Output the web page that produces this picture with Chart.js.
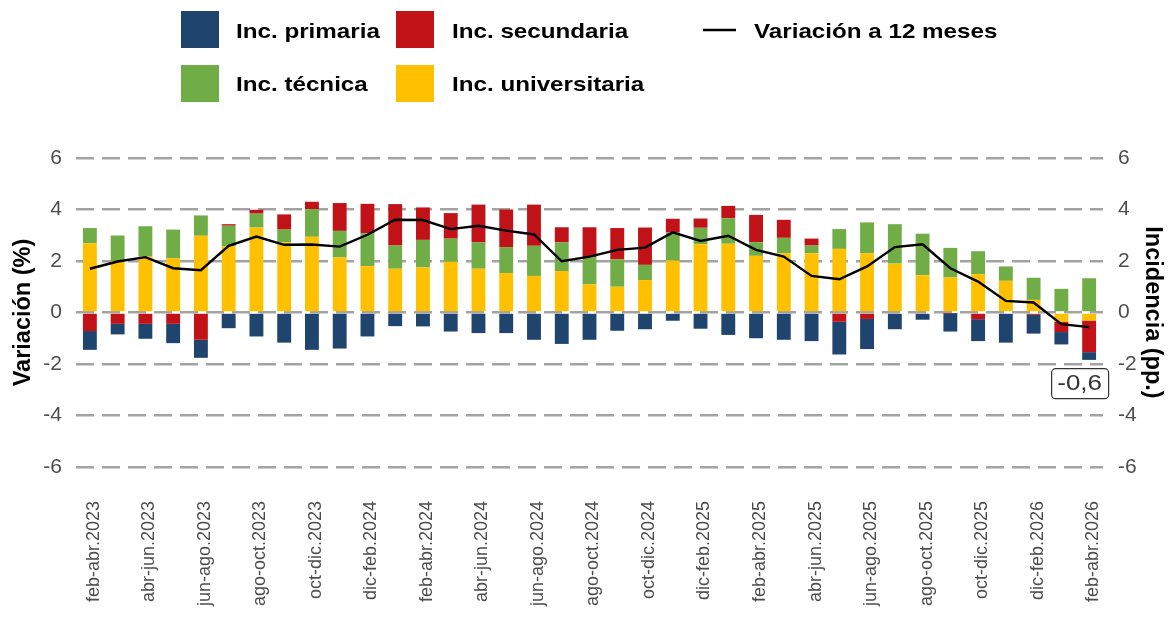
<!DOCTYPE html>
<html>
<head>
<meta charset="utf-8">
<script src="https://cdn.jsdelivr.net/npm/chart.js@4.4.1/dist/chart.umd.min.js"></script>
<style>
  html, body { margin: 0; padding: 0; background: #ffffff; }
  #wrap { position: relative; width: 1168px; height: 618px; }
</style>
</head>
<body>
<div id="wrap"><canvas id="c" width="1168" height="618"></canvas></div>
<script>
// ---------------- DATA ----------------
const categories = [
  'feb-abr.2023','mar-may.2023','abr-jun.2023','may-jul.2023','jun-ago.2023','jul-sep.2023',
  'ago-oct.2023','sep-nov.2023','oct-dic.2023','nov-ene.2024','dic-feb.2024','ene-mar.2024',
  'feb-abr.2024','mar-may.2024','abr-jun.2024','may-jul.2024','jun-ago.2024','jul-sep.2024',
  'ago-oct.2024','sep-nov.2024','oct-dic.2024','nov-ene.2025','dic-feb.2025','ene-mar.2025',
  'feb-abr.2025','mar-may.2025','abr-jun.2025','may-jul.2025','jun-ago.2025','jul-sep.2025',
  'ago-oct.2025','sep-nov.2025','oct-dic.2025','nov-ene.2026','dic-feb.2026','ene-mar.2026',
  'feb-abr.2026'
];
const incUniversitaria = [2.69,2.00,2.17,2.11,2.98,2.56,3.30,2.73,2.94,2.14,1.80,1.70,
  1.75,1.97,1.70,1.53,1.42,1.61,1.09,1.00,1.26,2.01,2.65,2.67,
  2.20,2.30,2.30,2.47,2.30,1.90,1.45,1.36,1.49,1.23,0.49,-0.36,-0.31];
const incTecnica = [0.59,0.99,1.18,1.11,0.79,0.81,0.54,0.49,1.07,1.03,1.28,0.90,
  1.07,0.90,1.02,1.01,1.17,1.11,1.06,1.07,0.59,1.10,0.64,0.99,
  0.53,0.60,0.30,0.77,1.20,1.53,1.61,1.15,0.89,0.56,0.86,0.92,1.33];
const incSecundaria = [-0.72,-0.44,-0.44,-0.44,-1.06,0.06,0.15,0.59,0.29,1.08,1.14,1.61,
  1.26,0.99,1.47,1.46,1.60,0.59,1.16,1.21,1.45,0.53,0.36,0.48,
  1.06,0.70,0.27,-0.36,-0.25,0,0,-0.03,-0.26,0,-0.09,-0.40,-1.23];
const incPrimaria = [-0.73,-0.41,-0.58,-0.75,-0.70,-0.61,-0.93,-1.17,-1.45,-1.40,-0.93,-0.53,
  -0.54,-0.74,-0.80,-0.80,-1.06,-1.22,-1.06,-0.71,-0.65,-0.32,-0.63,-0.87,
  -1.00,-1.06,-1.11,-1.27,-1.17,-0.65,-0.28,-0.71,-0.85,-1.17,-0.73,-0.48,-0.30];
const variacion12m = [1.70,1.98,2.15,1.72,1.64,2.59,2.95,2.63,2.64,2.56,3.02,3.60,
  3.59,3.24,3.37,3.18,3.03,1.99,2.17,2.43,2.52,3.11,2.78,2.98,
  2.43,2.17,1.42,1.29,1.79,2.54,2.65,1.72,1.20,0.45,0.39,-0.45,-0.57];
const yTickValues = [-6,-4,-2,0,2,4,6];

// ---------------- STYLE ----------------
const FONT = "'Liberation Sans', Arial, Helvetica, sans-serif";
const TICK_COLOR = '#4D4D4D';
const TEXT_SX = 1.18; // horizontal text stretch seen in the reference
const COLORS = {
  'Inc. primaria': '#1F446E',
  'Inc. secundaria': '#C11317',
  'Inc. técnica': '#70AD47',
  'Inc. universitaria': '#FFC000',
  'Variación a 12 meses': '#000000'
};

// Legend laid out in two rows like the reference
const legendLayout = [
  { label: 'Inc. primaria', kind: 'box', x: 181, y: 11, tx: 236, ty: 37.5 },
  { label: 'Inc. secundaria', kind: 'box', x: 396, y: 11, tx: 452, ty: 37.5 },
  { label: 'Variación a 12 meses', kind: 'line', x: 703, y: 30, tx: 754, ty: 37.5 },
  { label: 'Inc. técnica', kind: 'box', x: 181, y: 65, tx: 236, ty: 91 },
  { label: 'Inc. universitaria', kind: 'box', x: 396, y: 65, tx: 452, ty: 91 }
];

const legendPlugin = {
  id: 'customLegend',
  afterDraw(chart) {
    const ctx = chart.ctx;
    ctx.save();
    legendLayout.forEach(item => {
      const ds = chart.data.datasets.find(d => d.label === item.label);
      if (!ds) return;
      const col = ds.type === 'line' ? ds.borderColor : ds.backgroundColor;
      if (item.kind === 'box') {
        ctx.fillStyle = col;
        ctx.fillRect(item.x, item.y, 38, 37);
      } else {
        ctx.strokeStyle = col;
        ctx.lineWidth = 2.4;
        ctx.beginPath();
        ctx.moveTo(item.x, item.y);
        ctx.lineTo(item.x + 33, item.y);
        ctx.stroke();
      }
      ctx.save();
      ctx.translate(item.tx, item.ty);
      ctx.scale(TEXT_SX, 1);
      ctx.fillStyle = '#000000';
      ctx.font = 'bold 20.5px ' + FONT;
      ctx.textAlign = 'left';
      ctx.textBaseline = 'alphabetic';
      ctx.fillText(ds.label, 0, 0);
      ctx.restore();
    });
    ctx.restore();
  }
};

const lastLabelPlugin = {
  id: 'lastLabel',
  afterDatasetsDraw(chart) {
    const idx = chart.data.datasets.findIndex(d => d.type === 'line');
    const meta = chart.getDatasetMeta(idx);
    const n = meta.data.length;
    const pt = meta.data[n - 1];
    const v = chart.data.datasets[idx].data[n - 1];
    const txt = v.toFixed(1).replace('.', ',');
    const ctx = chart.ctx;
    const w = 57, h = 30;
    const cx = pt.x - 9.5, cy = pt.y + 56;
    const x0 = cx - w / 2, y0 = cy - h / 2;
    ctx.save();
    ctx.beginPath();
    ctx.roundRect(x0 + 0.5, y0 + 0.5, w, h, 4);
    ctx.fillStyle = '#ffffff';
    ctx.fill();
    ctx.lineWidth = 1.2;
    ctx.strokeStyle = '#333333';
    ctx.stroke();
    ctx.translate(cx, cy + 1);
    ctx.scale(TEXT_SX, 1);
    ctx.fillStyle = '#333333';
    ctx.font = '22px ' + FONT;
    ctx.textAlign = 'center';
    ctx.textBaseline = 'middle';
    ctx.fillText(txt, 0, 0);
    ctx.restore();
  }
};

const barDs = (label, data) => ({
  type: 'bar', label, data, backgroundColor: COLORS[label], borderWidth: 0, order: 1, stack: 'inc'
});

const yTickOpts = (pad) => ({
  stepSize: 2, padding: pad, color: TICK_COLOR, font: { family: FONT, size: 21 },
  callback: v => yTickValues.includes(v) ? String(v) : ''
});

new Chart(document.getElementById('c').getContext('2d'), {
  type: 'bar',
  data: {
    labels: categories,
    datasets: [
      { type: 'line', label: 'Variación a 12 meses', data: variacion12m, borderColor: COLORS['Variación a 12 meses'],
        borderWidth: 2.4, pointRadius: 0, tension: 0, order: 0, stack: 'line', yAxisID: 'y' },
      barDs('Inc. universitaria', incUniversitaria),
      barDs('Inc. técnica', incTecnica),
      barDs('Inc. secundaria', incSecundaria),
      barDs('Inc. primaria', incPrimaria)
    ]
  },
  options: {
    responsive: false,
    animation: false,
    devicePixelRatio: 1,
    layout: { padding: { top: 158, left: 0, right: 0, bottom: 0 } },
    plugins: { legend: { display: false }, tooltip: { enabled: false } },
    datasets: { bar: { categoryPercentage: 1, barPercentage: 0.5 } },
    scales: {
      x: {
        stacked: true,
        grid: { display: false },
        border: { display: false },
        ticks: {
          autoSkip: false, minRotation: 90, maxRotation: 90, padding: 26, labelOffset: 4,
          color: TICK_COLOR, font: { family: FONT, size: 18 },
          callback: (v, i) => (i % 2 === 0 ? categories[i] : '')
        },
        afterFit: s => { s.height = 151; }
      },
      y: {
        stacked: true, position: 'left', min: -6, max: 6,
        ticks: yTickOpts(14),
        grid: { color: '#A3A3A3', lineWidth: 2.6, drawTicks: false },
        border: { display: false, dash: [18, 8] },
        title: { display: true, text: 'Variación (%)', color: '#000000',
          font: { family: FONT, size: 23.5, weight: 'bold' }, padding: { top: 9, bottom: 0 } },
        afterFit: s => { s.width = 76; }
      },
      y1: {
        position: 'right', min: -6, max: 6,
        ticks: yTickOpts(15),
        grid: { display: false, drawTicks: false },
        border: { display: false },
        title: { display: true, text: 'Incidencia (pp.)', color: '#000000',
          font: { family: FONT, size: 23.5, weight: 'bold' }, padding: { top: 1, bottom: 0 } },
        afterFit: s => { s.width = 65; }
      }
    }
  },
  plugins: [legendPlugin, lastLabelPlugin]
});
</script>
</body>
</html>
